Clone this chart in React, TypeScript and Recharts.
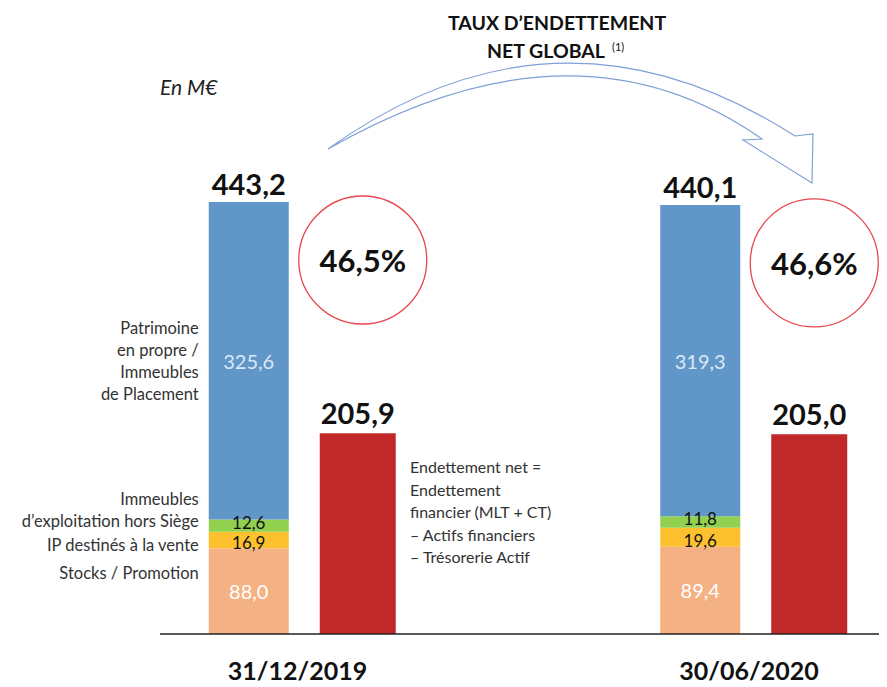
import { BarChart, Bar, XAxis, YAxis, LabelList } from "recharts"

const categories = ["31/12/2019", "30/06/2020"]
const stocksPromotion = [88.0, 89.4]
const ipDestinesVente = [16.9, 19.6]
const immeublesExploitation = [12.6, 11.8]
const patrimoinePlacement = [325.6, 319.3]
const totalActifs = [443.2, 440.1]
const endettementNet = [205.9, 205.0]
const tauxEndettement = [46.5, 46.6]

const data = categories.map((name, i) => ({
  name,
  stocks: stocksPromotion[i],
  ipVente: ipDestinesVente[i],
  exploitation: immeublesExploitation[i],
  patrimoine: patrimoinePlacement[i],
  total: totalActifs[i],
  dette: endettementNet[i],
  taux: tauxEndettement[i],
}))

const FONT = "Lato, 'Open Sans', sans-serif"
const fmt = (v: number) => v.toFixed(1).replace(".", ",")

const box = (props: any) => {
  const vb = props.viewBox ?? props
  const x = Number(vb.x ?? props.x)
  const y = Number(vb.y ?? props.y)
  const w = Number(vb.width ?? props.width)
  const h = Number(vb.height ?? props.height)
  const top = h >= 0 ? y : y + h
  return { x, top, w, h: Math.abs(h) }
}

// text on the left of the first bar, next to each segment
// shift: small vertical nudge so the thin segments' labels don't collide
const sideLabel = (lines: string[], mode: "center" | "last" | "top", shift = 0) => (props: any) => {
  if (props.index !== 0) return null
  const { x, top, h } = box(props)
  const lh = 22
  let firstY = top + h / 2 - ((lines.length - 1) * lh) / 2
  if (mode === "last") firstY = top + h / 2 - (lines.length - 1) * lh
  if (mode === "top") firstY = top
  firstY += shift
  return (
    <text x={x - 10} textAnchor="end" fontFamily={FONT} fontSize={16.5} fill="#333">
      {lines.map((l, k) => (
        <tspan key={k} x={x - 10} y={firstY + k * lh} dominantBaseline="central">
          {l}
        </tspan>
      ))}
    </text>
  )
}

const inside = (color: string, size = 20, shift = 0) => (props: any) => {
  const { x, top, w, h } = box(props)
  return (
    <text x={x + w / 2} y={top + h / 2 + shift} textAnchor="middle" dominantBaseline="central" fontFamily={FONT} fontSize={size} fill={color}>
      {fmt(Number(props.value))}
    </text>
  )
}

// total above the stack + the debt ratio circle
const totalLabel = (props: any) => {
  const { x, top, w } = box(props)
  const i = props.index
  const cx = x + w + 31 + 38 + 5
  const cy = top + 58
  return (
    <g>
      <text x={x + w / 2} y={top - 7} textAnchor="middle" fontFamily={FONT} fontWeight={700} fontSize={29} fill="#111">
        {fmt(totalActifs[i])}
      </text>
      <circle cx={cx} cy={cy} r={64} fill="none" stroke="#e8454c" strokeWidth={1.3} />
      <text x={cx} y={cy} textAnchor="middle" dominantBaseline="central" fontFamily={FONT} fontWeight={700} fontSize={31} fill="#111">
        {fmt(tauxEndettement[i])}%
      </text>
    </g>
  )
}

const detteLabel = (props: any) => {
  const { x, top, w } = box(props)
  return (
    <text x={x + w / 2} y={top - 9} textAnchor="middle" fontFamily={FONT} fontWeight={700} fontSize={29} fill="#111">
      {fmt(Number(props.value))}
    </text>
  )
}

const DateTick = (props: any) => (
  <text x={props.x - 5} y={props.y + 38} textAnchor="middle" fontFamily={FONT} fontWeight={700} fontSize={25} fill="#111">
    {props.payload.value}
  </text>
)

const noteLines = ["Endettement net =", "Endettement", "financier (MLT + CT)", "– Actifs financiers", "– Trésorerie Actif"]

export default function App() {
  return (
    <div style={{ position: "relative", width: 879, height: 679 }}>
      <BarChart width={879} height={679} data={data} margin={{ top: 177.5, right: 0, bottom: 23, left: 152 }} barGap={31}>
        <XAxis
          dataKey="name"
          height={30}
          padding={{ left: -83.25, right: -92.75 }}
          axisLine={{ stroke: "#222", strokeWidth: 1.3 }}
          tickLine={false}
          tick={DateTick}
          interval={0}
        />
        <YAxis hide domain={[0, 460]} />
        <Bar dataKey="stocks" stackId="a" barSize={80} fill="#f4b183" isAnimationActive={false}>
          <LabelList dataKey="stocks" content={inside("#ffffff")} />
          <LabelList dataKey="stocks" content={sideLabel(["Stocks / Promotion"], "top", 25)} />
        </Bar>
        <Bar dataKey="ipVente" stackId="a" barSize={80} fill="#fdc12f" isAnimationActive={false}>
          <LabelList dataKey="ipVente" content={inside("#111", 17, 3)} />
          <LabelList dataKey="ipVente" content={sideLabel(["IP destinés à la vente"], "center", 5)} />
        </Bar>
        <Bar dataKey="exploitation" stackId="a" barSize={80} fill="#92d050" isAnimationActive={false}>
          <LabelList dataKey="exploitation" content={inside("#111", 17, -3)} />
          <LabelList dataKey="exploitation" content={sideLabel(["Immeubles", "d’exploitation hors Siège"], "last", -5)} />
        </Bar>
        <Bar dataKey="patrimoine" stackId="a" barSize={80} fill="#6096c8" isAnimationActive={false}>
          <LabelList dataKey="patrimoine" content={inside("#dce8f5")} />
          <LabelList dataKey="patrimoine" content={sideLabel(["Patrimoine", "en propre /", "Immeubles", "de Placement"], "center")} />
          <LabelList dataKey="patrimoine" content={totalLabel} />
        </Bar>
        <Bar dataKey="dette" barSize={76} fill="#c1282a" isAnimationActive={false}>
          <LabelList dataKey="dette" content={detteLabel} />
        </Bar>
      </BarChart>

      <svg width={887} height={687} style={{ position: "absolute", left: -8, top: -8, pointerEvents: "none" }}>
        <text x={557} y={30} textAnchor="middle" fontFamily={FONT} fontWeight={700} fontSize={19.5} fill="#111">
          TAUX D’ENDETTEMENT
        </text>
        <text x={546} y={58} textAnchor="middle" fontFamily={FONT} fontWeight={700} fontSize={19.5} fill="#111">
          NET GLOBAL
        </text>
        <text x={612} y={51} fontFamily={FONT} fontSize={11} fill="#111">(1)</text>
        <text x={160} y={95} fontFamily={FONT} fontStyle="italic" fontSize={21} fill="#222">
          En M€
        </text>
        <path
          d="M328,149 Q558,-16 795,136 L813,134 L812,183 L743,140 L762,139 Q575,8 328,149 Z"
          fill="#fff"
          stroke="#7f9fd6"
          strokeWidth={1.2}
          strokeLinejoin="miter"
        />
        <text fontFamily={FONT} fontSize={16} fill="#333">
          {noteLines.map((l, k) => (
            <tspan key={k} x={410} y={473 + k * 22.6}>
              {l}
            </tspan>
          ))}
        </text>
      </svg>
    </div>
  )
}
